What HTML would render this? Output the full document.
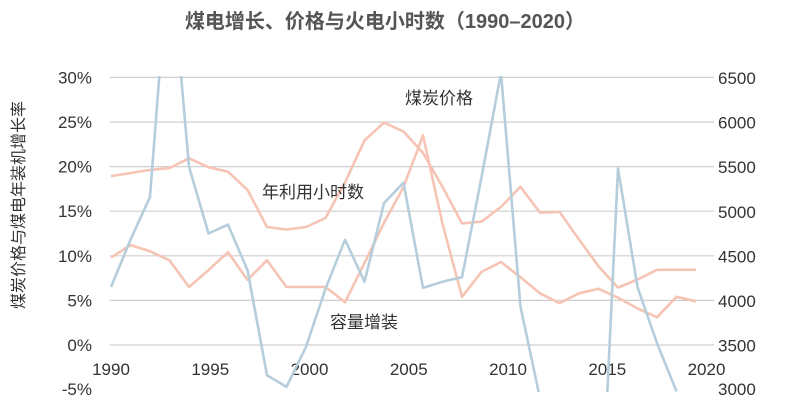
<!DOCTYPE html>
<html><head><meta charset="utf-8"><style>
html,body{margin:0;padding:0;background:#fff;width:800px;height:401px;overflow:hidden}
svg{display:block}
svg text{font-family:"Liberation Sans","Noto Sans CJK SC",sans-serif}
</style></head><body>
<svg id="chart" width="800" height="401" viewBox="0 0 800 401" xmlns="http://www.w3.org/2000/svg">
<text x="385" y="28" text-anchor="middle" font-size="20" font-weight="bold" fill="#555">煤电增长、价格与火电小时数（1990–2020）</text>
<text transform="translate(24,205) rotate(-90)" text-anchor="middle" font-size="16" fill="#333">煤炭价格与煤电年装机增长率</text>
<g id="grid"></g><g id="ticks"></g>
<defs><clipPath id="plotclip"><rect x="100" y="76" width="620" height="316"/></clipPath></defs>
<g id="series" clip-path="url(#plotclip)"></g>
<text x="405" y="104" font-size="17" fill="#333">煤炭价格</text>
<text x="262" y="198" font-size="17" fill="#333">年利用小时数</text>
<text x="330" y="328" font-size="17" fill="#333">容量增装</text>
</svg>
<script>
const years=[1990,1991,1992,1993,1994,1995,1996,1997,1998,1999,2000,2001,2002,2003,2004,2005,2006,2007,2008,2009,2010,2011,2012,2013,2014,2015,2016,2017,2018,2019,2020];
const coalPrice=[9.8,11.2,10.5,9.5,6.5,8.4,10.4,7.3,9.5,6.5,6.5,6.5,4.8,9.2,13.7,17.7,23.5,13.6,5.4,8.2,9.3,7.6,5.8,4.7,5.8,6.3,5.3,4.1,3.1,5.4,4.9];
const hours=[5400,5435,5470,5490,5600,5500,5450,5245,4830,4800,4830,4930,5330,5800,6000,5900,5660,5280,4870,4890,5055,5280,4990,5000,4690,4390,4150,4240,4350,4350,4350];
const capacityYears=[1990,1991,1992,1993,1994,1995,1996,1997,1998,1999,2000,2001,2002,2003,2004,2005,2006,2007,2008,2009,2010,2011,2012,2013,2014,2015,2016,2017,2018,2019];
const capacity=[6.5,11.8,16.6,45,20,12.5,13.5,8.4,-3.4,-4.7,-0.2,6.3,11.8,7.1,15.9,18.2,6.4,7.1,7.6,18.8,30.5,4.3,-6,-15,-20,-26,19.8,6.5,0.2,-5.2];
const leftTicks=[30,25,20,15,10,5,0,-5];
const rightTicks=[6500,6000,5500,5000,4500,4000,3500,3000];
const xTickYears=[1990,1995,2000,2005,2010,2015,2020];
const NS="http://www.w3.org/2000/svg";
const x=y=>111+(y-1990)*19.5;
const yL=v=>345-v*8.92;
const yR=v=>78+(6500-v)*44.6/500;
function mk(t,a,p){const e=document.createElementNS(NS,t);for(const k in a)e.setAttribute(k,a[k]);p.appendChild(e);return e;}
const grid=document.getElementById('grid'),ticks=document.getElementById('ticks'),ser=document.getElementById('series');
leftTicks.forEach((v,i)=>{
 if(v>=0){const l=mk('line',{x1:110,x2:714,y1:yL(v),y2:yL(v),stroke:'#cfcfcf','stroke-width':1.2},grid);
 
 }
 const t=mk('text',{x:92,y:Math.min(yL(v)+6,395),'text-anchor':'end','font-size':17,fill:'#333'},ticks);t.textContent=v+'%';
 
 
});
rightTicks.forEach(v=>{
 const t=mk('text',{x:718,y:Math.min(yR(v)+6,395),'font-size':17,fill:'#333'},ticks);t.textContent=v;
 
 
});
xTickYears.forEach(v=>{
 const t=mk('text',{x:111+(v-1990)*19.85,y:375,'text-anchor':'middle','font-size':17,fill:'#333'},ticks);t.textContent=v;
 
 
});
function line(xs,vals,fy,color,name){
 const d=vals.map((v,i)=>(i?'L':'M')+x(xs[i]).toFixed(1)+','+fy(v).toFixed(1)).join('');
 const p=mk('path',{d:d,fill:'none',stroke:color,'stroke-width':2.6,'stroke-linejoin':'round'},ser);
 
 
}
line(years,hours,yR,'#f6c4b4','utilization-hours-line');
line(years,coalPrice,yL,'#f6c4b4','coal-price-line');
line(capacityYears,capacity,yL,'#b6cedb','capacity-additions-line');
</script>
</body></html>
